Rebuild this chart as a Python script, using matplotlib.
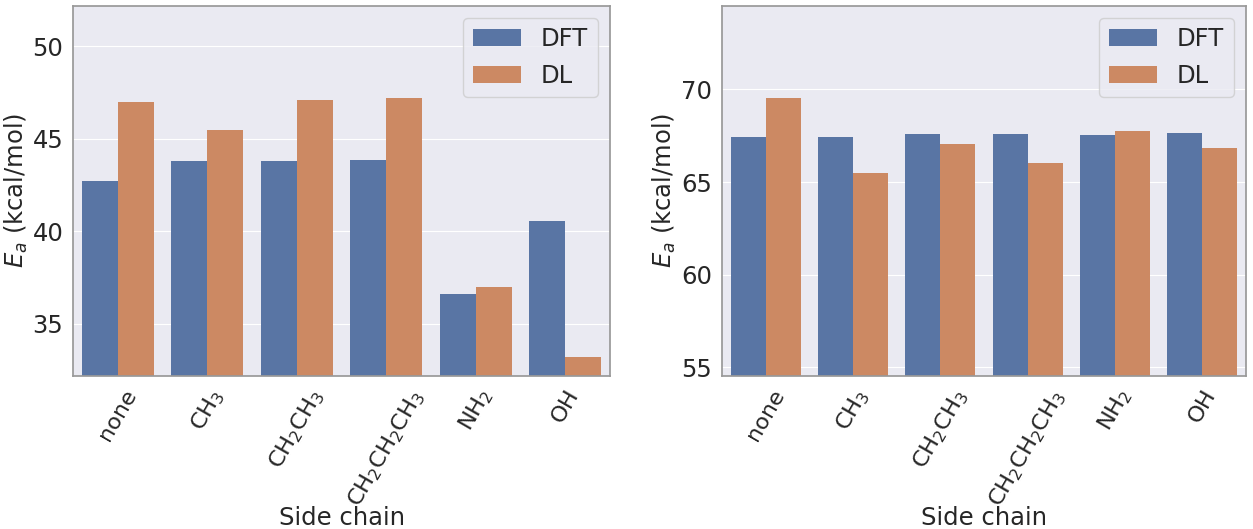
import numpy as np
import pandas as pd
import seaborn as sns
import matplotlib
matplotlib.use('Agg')
import matplotlib.pyplot as plt

sns.set_style('darkgrid', {'axes.edgecolor': '0.6'})
plt.rcParams['font.family'] = ['DejaVu Sans']
plt.rcParams['font.size'] = 17.5

side_chains = ['none', 'CH$_3$', 'CH$_2$CH$_3$', 'CH$_2$CH$_2$CH$_3$', 'NH$_2$', 'OH']

# left panel
dft_left = [42.71, 43.79, 43.79, 43.84, 36.61, 40.55]
dl_left = [46.98, 45.46, 47.08, 47.19, 36.99, 33.21]

# right panel
dft_right = [67.43, 67.43, 67.59, 67.59, 67.54, 67.64]
dl_right = [69.53, 65.49, 67.05, 66.02, 67.75, 66.84]


def make_frame(dft, dl):
    n = len(side_chains)
    return pd.DataFrame({
        'Side chain': side_chains * 2,
        'Ea': list(dft) + list(dl),
        'method': ['DFT'] * n + ['DL'] * n,
    })


def panel(ax, dft, dl, ticks):
    df = make_frame(dft, dl)
    sns.barplot(data=df, x='Side chain', y='Ea', hue='method', ax=ax,
                palette='deep', saturation=0.75, linewidth=0, edgecolor='none')
    top = max(max(dft), max(dl))
    ax.set_ylim(top - 15, top + 5)
    ax.set_yticks(ticks)
    ax.set_xlabel('Side chain', fontsize=17.5)
    ax.xaxis.set_label_coords(0.5, -0.352)
    ax.set_ylabel('$E_a$ (kcal/mol)', fontsize=17.5, labelpad=2)
    ax.tick_params(axis='y', labelsize=17.5)
    ax.tick_params(axis='x', labelsize=16.2)
    for lab in ax.get_xticklabels():
        lab.set_rotation(60)
    for s in ax.spines.values():
        s.set_visible(True)
        s.set_linewidth(1.25)
    ax.legend(loc='upper right', fontsize=17.5, title=None)


fig = plt.figure(figsize=(12.53, 5.29), dpi=100)
ax1 = fig.add_axes([0.0583, 0.2892, 0.4285, 0.7004])
ax2 = fig.add_axes([0.5762, 0.2892, 0.4182, 0.7004])

panel(ax1, dft_left, dl_left, [35, 40, 45, 50])
panel(ax2, dft_right, dl_right, [55, 60, 65, 70])

fig.savefig('out.png', dpi=100)
